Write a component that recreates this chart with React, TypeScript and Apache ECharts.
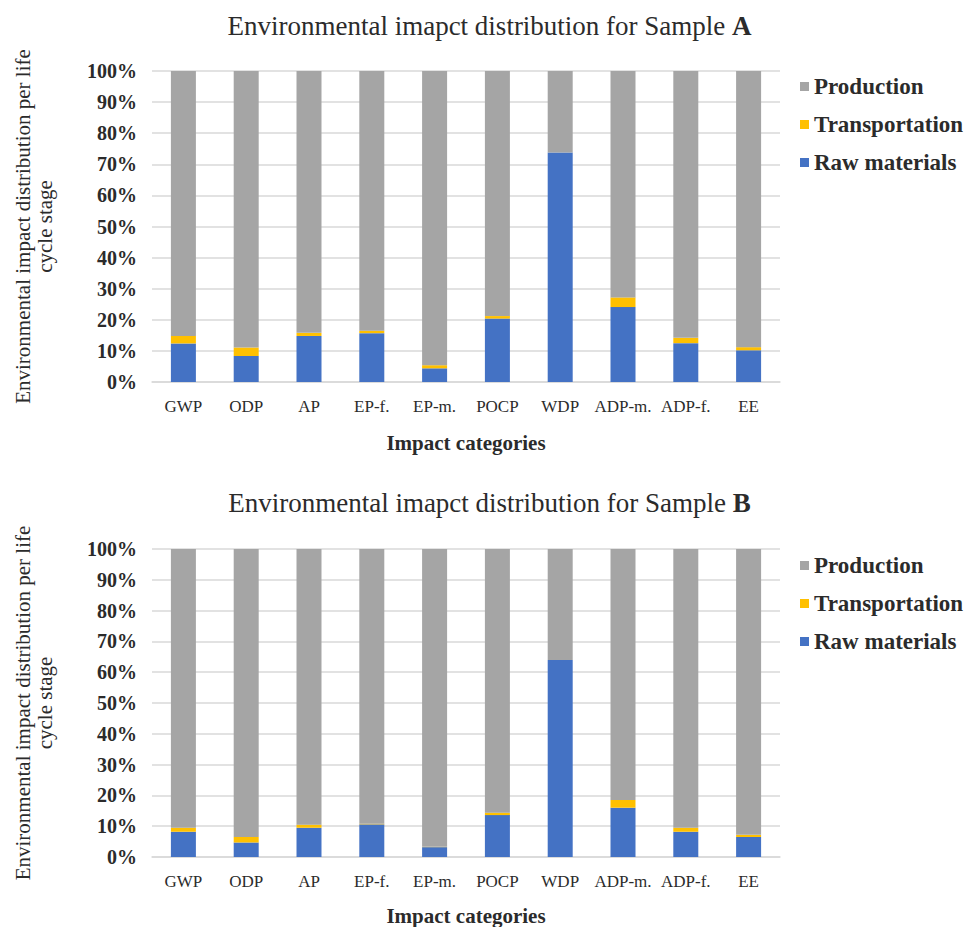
import React, { useEffect, useRef } from "react";
import * as echarts from "echarts";

const categories = ["GWP", "ODP", "AP", "EP-f.", "EP-m.", "POCP", "WDP", "ADP-m.", "ADP-f.", "EE"];
const yTicks = ["0%", "10%", "20%", "30%", "40%", "50%", "60%", "70%", "80%", "90%", "100%"];

// Sample A (percent of total)
const rawA = [12.4, 8.4, 14.8, 15.7, 4.4, 20.4, 73.8, 24.1, 12.5, 10.2];
const transA = [2.4, 2.7, 1.0, 0.8, 1.0, 0.8, 0.0, 3.1, 1.7, 1.0];
// Sample B (percent of total)
const rawB = [8.2, 4.7, 9.5, 10.6, 3.2, 13.6, 64.0, 16.0, 8.2, 6.5];
const transB = [1.3, 1.8, 1.0, 0.2, 0.1, 0.8, 0.0, 2.5, 1.3, 0.7];

const prodA = rawA.map((r, i) => +(100 - r - transA[i]).toFixed(1));
const prodB = rawB.map((r, i) => +(100 - r - transB[i]).toFixed(1));

const C_RAW = "#4472C4";
const C_TRANS = "#FFC000";
const C_PROD = "#A5A5A5";
const FONT = "Liberation Serif";
const TXT = "#2b2b2b";

export default function App() {
  const ref = useRef<HTMLDivElement>(null);
  useEffect(() => {
    if (!ref.current) return;
    const chart = echarts.init(ref.current, null, { renderer: "svg" });

    const grids = [
      { left: 152, top: 71, width: 628, height: 311 },
      { left: 152, top: 549, width: 628, height: 310 },
    ];

    const xAxis = grids.map((_, gi) => ({
      type: "category",
      gridIndex: gi,
      data: categories,
      axisTick: { show: false },
      axisLine: { lineStyle: { color: "#D9D9D9", width: 1.5 } },
      axisLabel: { color: TXT, fontFamily: FONT, fontSize: 17, margin: 16, interval: 0, hideOverlap: false },
      name: "Impact categories",
      nameLocation: "middle",
      nameGap: gi === 0 ? 50 : 48,
      nameTextStyle: { color: TXT, fontFamily: FONT, fontSize: 21, fontWeight: "bold" },
    }));

    const yAxis = grids.map((_, gi) => ({
      type: "value",
      gridIndex: gi,
      min: 0,
      max: 100,
      interval: 10,
      axisLabel: {
        color: TXT,
        fontFamily: FONT,
        fontSize: 20,
        fontWeight: "bold",
        margin: 15,
        formatter: (v: number) => yTicks[Math.round(v / 10)],
      },
      splitLine: { lineStyle: { color: "#D9D9D9", width: 1.5 } },
      axisLine: { show: false },
      axisTick: { show: false },
      name: "Environmental impact distribution per life\ncycle stage",
      nameLocation: "middle",
      nameRotate: 90,
      nameGap: 96,
      nameTextStyle: { color: TXT, fontFamily: FONT, fontSize: 21, lineHeight: 22, align: "center" },
    }));

    const mk = (gi: number, raw: number[], trans: number[], prod: number[]) => [
      { name: "Raw materials", type: "bar", stack: "s" + gi, xAxisIndex: gi, yAxisIndex: gi, data: raw, barWidth: 25, itemStyle: { color: C_RAW } },
      { name: "Transportation", type: "bar", stack: "s" + gi, xAxisIndex: gi, yAxisIndex: gi, data: trans, barWidth: 25, itemStyle: { color: C_TRANS } },
      { name: "Production", type: "bar", stack: "s" + gi, xAxisIndex: gi, yAxisIndex: gi, data: prod, barWidth: 25, itemStyle: { color: C_PROD } },
    ];

    const legend = [75, 554].map((top) => ({
      orient: "vertical",
      left: 800,
      top,
      padding: 0,
      itemWidth: 9,
      itemHeight: 9,
      itemGap: 15,
      icon: "rect",
      data: ["Production", "Transportation", "Raw materials"],
      textStyle: { color: TXT, fontFamily: FONT, fontSize: 23, fontWeight: "bold" },
      selectedMode: false,
    }));

    const title = [
      { t: "Environmental imapct distribution for Sample ", b: "A", top: 7 },
      { t: "Environmental imapct distribution for Sample ", b: "B", top: 484 },
    ].map((o) => ({
      text: o.t + "{b|" + o.b + "}",
      left: "center",
      top: o.top,
      textStyle: {
        color: TXT,
        fontFamily: FONT,
        fontSize: 27,
        fontWeight: "normal",
        rich: { b: { fontFamily: FONT, fontSize: 27, fontWeight: "bold", color: TXT } },
      },
    }));

    chart.setOption({
      animation: false,
      backgroundColor: "#ffffff",
      title,
      legend,
      grid: grids,
      xAxis,
      yAxis,
      series: [...mk(0, rawA, transA, prodA), ...mk(1, rawB, transB, prodB)],
    });
    return () => chart.dispose();
  }, []);
  return <div ref={ref} style={{ position: "fixed", left: 0, top: 0, width: 979, height: 927 }} />;
}
